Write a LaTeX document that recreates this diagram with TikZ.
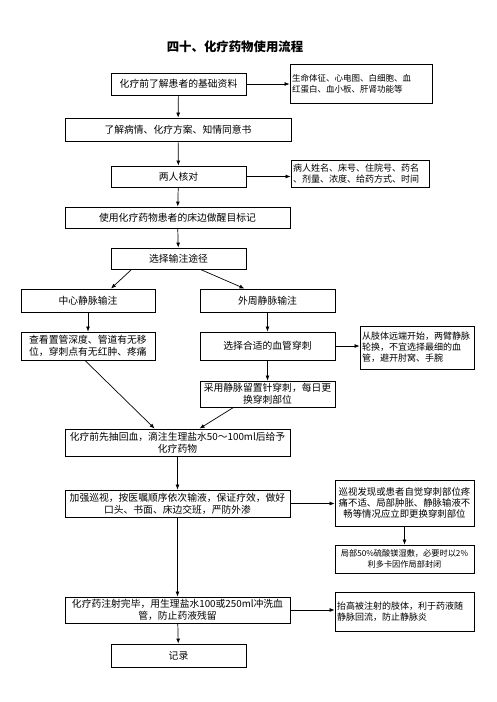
\documentclass[tikz,border=0pt]{standalone}
\usepackage{fontspec}
\setmainfont{Noto Sans CJK SC}
\usetikzlibrary{arrows.meta}

\begin{document}
\begin{tikzpicture}[x=1pt, y=-1pt,
  box/.style={draw, line width=0.9pt, inner sep=1pt, align=center,
              minimum width=#1, font=\fontsize{9.8}{12}\selectfont},
  box/.default=135pt,
  side/.style={draw, line width=0.9pt, inner xsep=2pt, inner ysep=1pt,
               text width=#1, align=left, font=\fontsize{9}{11}\selectfont},
  arr/.style={-{Latex[length=5pt,width=4pt]}, line width=0.7pt}
]
  \useasboundingbox (0,0) rectangle (496,702);

  \node[font=\fontsize{12.4}{14}\selectfont\bfseries] (title) at (235,47) {四十、化疗药物使用流程};

  % main column
  \node[box, minimum height=22pt] (info)    at (178.5,84)  {化疗前了解患者的基础资料};
  \node[box=226pt, minimum height=23pt] (consent) at (178,129.5) {了解病情、化疗方案、知情同意书};
  \node[box, minimum height=21pt] (check)   at (178.5,176.5) {两人核对};
  \node[box=225pt, minimum height=21pt] (mark)  at (177.5,217.5) {使用化疗药物患者的床边做醒目标记};
  \node[box, minimum height=21pt] (route)   at (178.5,258.5) {选择输注途径};
  \node[box=134pt, minimum height=23pt] (central) at (88,300.5)  {中心静脉输注};
  \node[box, minimum height=23pt] (periph)  at (267.5,300.5) {外周静脉输注};
  \node[box=134pt, minimum height=28pt] (depth) at (88,346)  {查看置管深度、管道有无移\\位，穿刺点有无红肿、疼痛};
  \node[box, minimum height=28pt] (vessel)  at (267.5,346) {选择合适的血管穿刺};
  \node[box, minimum height=26pt] (needle)  at (267.5,394) {采用静脉留置针穿刺，每日更\\换穿刺部位};
  \node[box=225pt, minimum height=27pt] (saline) at (177.5,442.5) {化疗前先抽回血，滴注生理盐水50～100ml后给予\\化疗药物};
  \node[box=225pt, minimum height=27pt] (patrol) at (177.5,503.5) {加强巡视，按医嘱顺序依次输液，保证疗效，做好\\口头、书面、床边交班，严防外渗};
  \node[box=225pt, minimum height=26pt] (flush)  at (177.5,610) {化疗药注射完毕，用生理盐水100或250ml冲洗血\\管，防止药液残留};
  \node[box, minimum height=23pt] (record)  at (178.5,655.5) {记录};

  % side notes
  \node[side=138pt, minimum height=39pt, font=\fontsize{8.5}{11}\selectfont] (vital) at (361,83.5)
    {生命体征、心电图、白细胞、血\\红蛋白、血小板、肝肾功能等};
  \node[side=134pt, minimum height=27pt] (items) at (360,173.5)
    {病人姓名、床号、住院号、药名\\、剂量、浓度、给药方式、时间};
  \node[side=110pt, minimum height=43pt] (limb) at (417,347.5)
    {从肢体远端开始，两臂静脉\\轮换，不宜选择最细的血\\管，避开肘窝、手腕};
  \node[side=135pt, minimum height=46pt, align=center, font=\fontsize{9.4}{10.7}\selectfont] (pain) at (404.5,503)
    {巡视发现或患者自觉穿刺部位疼\\痛不适、局部肿胀、静脉输液不\\畅等情况应立即更换穿刺部位};
  \node[side=135pt, minimum height=28pt, align=center, font=\fontsize{8.2}{11}\selectfont] (mgso) at (404.5,559)
    {局部50\%硫酸镁湿敷，必要时以2\%\\利多卡因作局部封闭};
  \node[side=135pt, minimum height=39pt] (raise) at (404.5,611.5)
    {抬高被注射的肢体，利于药液随\\静脉回流，防止静脉炎};

  % connectors
  \draw[arr] (info) -- (consent);
  \draw[arr] (info.east) -- (info.east -| vital.west);
  \draw[arr] (consent) -- (check);
  \draw[arr] (check.east) -- (check.east -| items.west);
  \draw[arr] (check) -- (mark);
  \draw[arr] (mark) -- (route);
  \draw[arr] ([xshift=21pt]route.south west) -- ([xshift=23pt]central.north);
  \draw[arr] ([xshift=-46pt]route.south east) -- ([xshift=-23pt]periph.north);
  \draw[arr] (central) -- (depth);
  \draw[arr] (periph) -- (vessel);
  \draw[arr] (vessel) -- (needle);
  \draw[arr] (vessel.east) -- (vessel.east -| limb.west);
  \draw[arr] ([xshift=-3pt]depth.south) -- ([xshift=90pt]saline.north west);
  \draw[arr] ([xshift=-34pt]needle.south) -- ([xshift=135pt]saline.north west);
  \draw[arr] (saline) -- (patrol);
  \draw[arr] (patrol.east) -- (patrol.east -| pain.west);
  \draw[arr] (pain) -- (mgso);
  \draw[arr] (patrol) -- (flush);
  \draw[arr] (flush.east) -- (flush.east -| raise.west);
  \draw[arr] (flush) -- (record);
\end{tikzpicture}
\end{document}
